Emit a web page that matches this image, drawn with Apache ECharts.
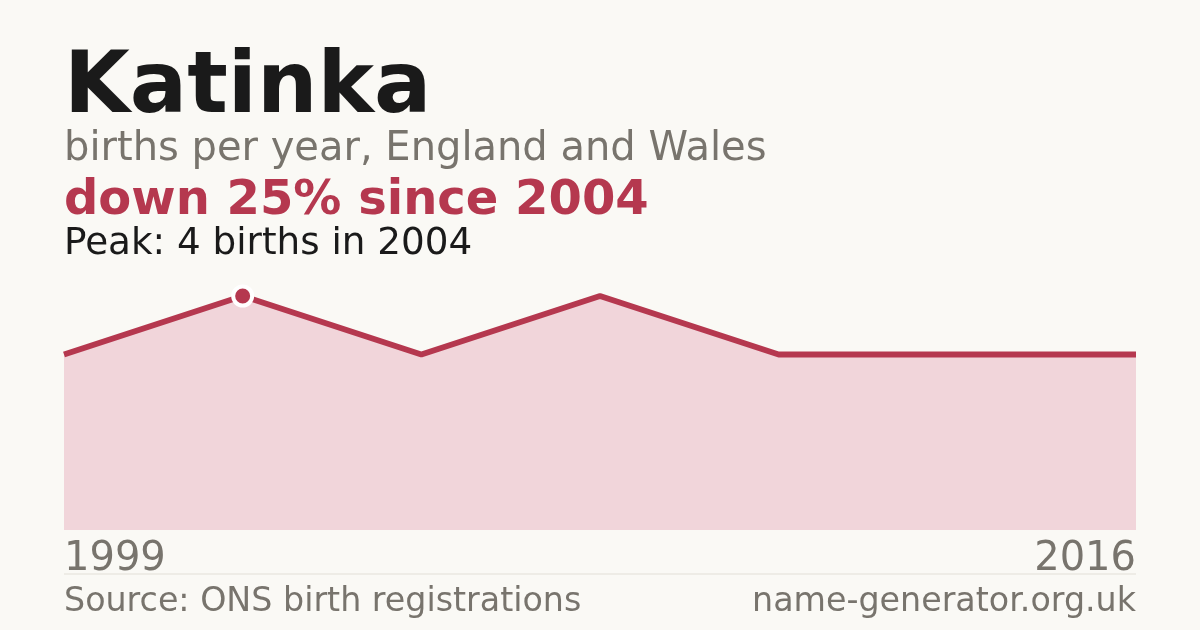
<!DOCTYPE html>
<html>
<head>
<meta charset="utf-8">
<script src="https://cdn.jsdelivr.net/npm/echarts@6/dist/echarts.min.js"></script>
<style>
  html, body { margin: 0; padding: 0; background: #faf9f5; }
  #chart { width: 1200px; height: 630px; }
</style>
</head>
<body>
<div id="chart"></div>
<script>
// data points as plotted (seven registered years)
var years = ['1999', '2004', '2007', '2009', '2012', '2014', '2016'];
var births = [3, 4, 3, 4, 3, 3, 3];
var peakYear = '2004';

var red = '#b5384f';
var grey = '#78746d';
var font = 'DejaVu Sans';

var peakIdx = years.indexOf(peakYear);
var peakData = births.map(function (v, i) { return i === peakIdx ? v : null; });

var myChart = echarts.init(document.getElementById('chart'));
var option = {
    backgroundColor: '#faf9f5',
    animation: false,
    grid: {
        left: 64,
        right: 64,
        top: 296,
        bottom: 100
    },
    xAxis: {
        type: 'category',
        boundaryGap: false,
        data: years,
        axisLine: { show: false },
        axisTick: { show: false },
        splitLine: { show: false },
        axisLabel: {
            interval: function (i) { return i === 0 || i === years.length - 1; },
            margin: 10,
            color: grey,
            fontFamily: font,
            fontSize: 40,
            verticalAlign: 'top',
            alignMinLabel: 'left',
            alignMaxLabel: 'right'
        }
    },
    yAxis: {
        type: 'value',
        min: 0,
        max: 4,
        show: false
    },
    series: [
        {
            type: 'line',
            data: births,
            symbol: 'none',
            clip: false,
            lineStyle: { color: red, width: 6 },
            areaStyle: { color: '#f1d5da', opacity: 1 },
            z: 2
        },
        {
            type: 'scatter',
            data: peakData,
            symbol: 'circle',
            symbolSize: 19,
            clip: false,
            itemStyle: { color: red, borderColor: '#ffffff', borderWidth: 4, opacity: 1 },
            z: 3
        }
    ],
    graphic: [
        { type: 'text', left: 64, top: 47, style: { text: 'Katinka', font: 'bold 85px "DejaVu Sans"', fill: '#1a1a1a' } },
        { type: 'text', left: 64, top: 130, style: { text: 'births per year, England and Wales', font: '40px "DejaVu Sans"', fill: grey } },
        { type: 'text', left: 64, top: 178, style: { text: 'down 25% since 2004', font: 'bold 48px "DejaVu Sans"', fill: red } },
        { type: 'text', left: 64, top: 226, style: { text: 'Peak: 4 births in 2004', font: '37.3px "DejaVu Sans"', fill: '#1a1a1a' } },
        { type: 'line', shape: { x1: 64, y1: 574, x2: 1136, y2: 574 }, style: { stroke: '#e2dfd7', lineWidth: 1 } },
        { type: 'text', left: 64, top: 586, style: { text: 'Source: ONS birth registrations', font: '33.3px "DejaVu Sans"', fill: grey } },
        { type: 'text', right: 64, top: 586, style: { text: 'name-generator.org.uk', font: '33.3px "DejaVu Sans"', fill: grey } }
    ]
};
myChart.setOption(option);
</script>
</body>
</html>
